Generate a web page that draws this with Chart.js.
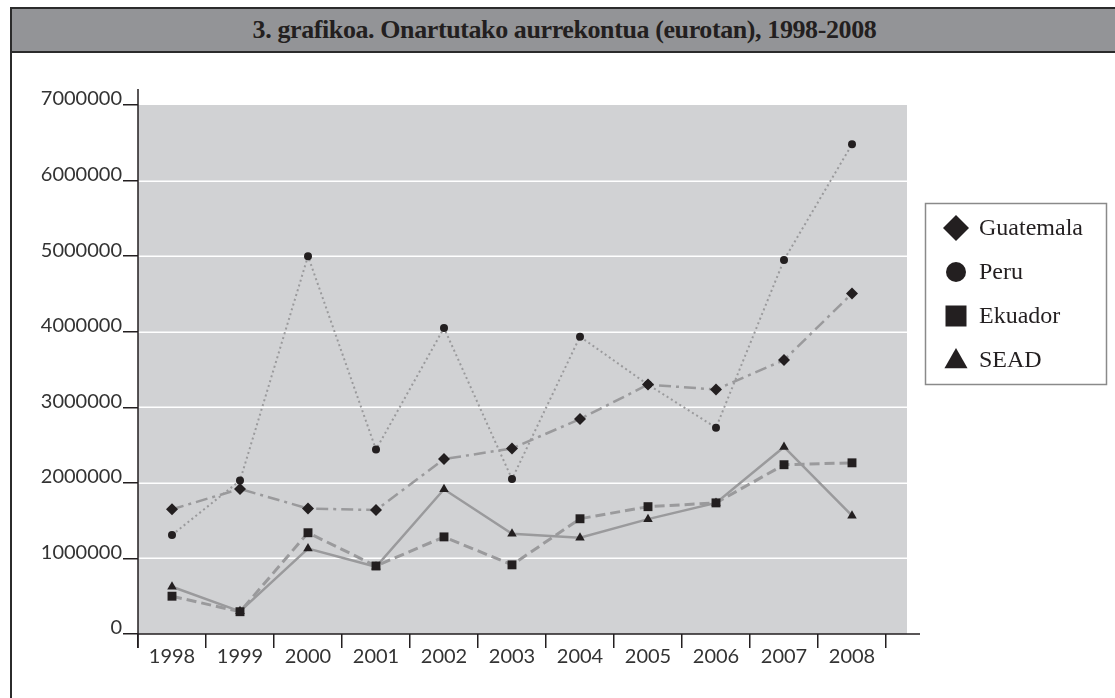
<!DOCTYPE html>
<html>
<head>
<meta charset="utf-8">
<script src="https://cdn.jsdelivr.net/npm/chart.js@4/dist/chart.umd.min.js"></script>
<style>
    html, body { margin: 0; padding: 0; background: #fff; }
    #wrap { position: relative; width: 1115px; height: 698px; overflow: hidden; }
    #frame {
        position: absolute; left: 10px; top: 7px; right: -4px; bottom: -4px;
        border-left: 2px solid #2b2b2b;
    }
    #title {
        position: absolute; left: 10px; top: 7px; width: 1105px; height: 42px;
        background: #939497;
        border-top: 2px solid #2b2b2b; border-bottom: 2px solid #2b2b2b; border-left: 2px solid #2b2b2b;
        box-sizing: content-box;
        font-family: "Liberation Serif", serif; font-weight: bold; font-size: 26px;
        color: #231f20; text-align: center; line-height: 42px; letter-spacing: -0.4px;
    }
    #chart { position: absolute; left: 0; top: 0; }
</style>
</head>
<body>
<div id="wrap">
    <div id="frame"></div>
    <div id="title">3. grafikoa. Onartutako aurrekontua (eurotan), 1998-2008</div>
    <canvas id="chart" width="1115" height="698"></canvas>
</div>
<script>
(function () {

    // ─────────────────────────────────────────────
    // DATA
    // ─────────────────────────────────────────────
    var years     = ['1998', '1999', '2000', '2001', '2002', '2003', '2004', '2005', '2006', '2007', '2008'];
    var guatemala = [1650000, 1920000, 1660000, 1640000, 2315000, 2455000, 2845000, 3300000, 3235000, 3625000, 4505000];
    var peru      = [1310000, 2030000, 5000000, 2440000, 4050000, 2050000, 3935000, 3300000, 2730000, 4950000, 6480000];
    var ekuador   = [500000, 295000, 1340000, 900000, 1285000, 915000, 1525000, 1685000, 1735000, 2240000, 2265000];
    var sead      = [625000, 300000, 1130000, 890000, 1915000, 1325000, 1275000, 1520000, 1735000, 2475000, 1565000];
    var yMax      = 7000000;
    var yStep     = 1000000;

    var INK  = '#231f20';
    var LINE = '#9a9a9c';
    var TICK_FONT = { family: 'Lato', size: 20 };

    // ─────────────────────────────────────────────
    // PLUGINS: grey plot panel, axis extensions, legend box
    // ─────────────────────────────────────────────
    var panel = {
        id: 'panel',
        beforeDatasetsDraw: function (chart) {
            var ctx = chart.ctx, a = chart.chartArea, y = chart.scales.y;
            var right = a.right + 21;
            ctx.save();
            ctx.fillStyle = '#d1d2d4';
            ctx.fillRect(a.left, a.top, right - a.left, a.bottom - a.top);
            ctx.strokeStyle = '#ffffff';
            ctx.lineWidth = 1.5;
            for (var v = yStep; v < yMax; v += yStep) {
                var py = Math.round(y.getPixelForValue(v)) + 0.25;
                ctx.beginPath();
                ctx.moveTo(a.left, py);
                ctx.lineTo(right, py);
                ctx.stroke();
            }
            // axis lines (drawn over the panel)
            ctx.strokeStyle = INK;
            ctx.lineWidth = 1.5;
            ctx.beginPath();
            ctx.moveTo(a.left, a.top - 16);
            ctx.lineTo(a.left, a.bottom + 14);
            ctx.moveTo(a.left, a.bottom);
            ctx.lineTo(a.right + 34, a.bottom);
            ctx.stroke();
            ctx.restore();
        }
    };

    function drawMarker(ctx, style, x, y, r) {
        ctx.beginPath();
        if (style === 'rectRot') {
            ctx.moveTo(x, y - r); ctx.lineTo(x + r, y); ctx.lineTo(x, y + r); ctx.lineTo(x - r, y);
        } else if (style === 'circle') {
            ctx.arc(x, y, r, 0, Math.PI * 2);
        } else if (style === 'rect') {
            ctx.rect(x - r, y - r, 2 * r, 2 * r);
        } else {
            ctx.moveTo(x, y - r * 1.1); ctx.lineTo(x + r * 1.05, y + r * 0.75); ctx.lineTo(x - r * 1.05, y + r * 0.75);
        }
        ctx.closePath();
        ctx.fill();
    }

    var legendBox = {
        id: 'legendBox',
        afterDraw: function (chart) {
            var ctx = chart.ctx;
            var sizes = [13, 10, 10.5, 11];
            ctx.save();
            ctx.fillStyle = '#ffffff';
            ctx.fillRect(925, 203, 181, 181);
            ctx.strokeStyle = '#8a8a8a';
            ctx.lineWidth = 1.5;
            ctx.strokeRect(925.5, 203.5, 181, 181);
            ctx.font = '24px "Liberation Serif"';
            ctx.textBaseline = 'middle';
            ctx.textAlign = 'left';
            chart.data.datasets.forEach(function (ds, i) {
                var cy = 228 + i * 44;
                ctx.fillStyle = INK;
                drawMarker(ctx, ds.pointStyle, 956, cy, sizes[i]);
                ctx.fillText(ds.label, 979, cy + 1);
            });
            ctx.restore();
        }
    };

    function series(label, data, style, radius, dash, width) {
        return {
            label: label,
            data: data,
            borderColor: LINE,
            borderWidth: width,
            borderDash: dash,
            backgroundColor: INK,
            pointStyle: style,
            pointRadius: radius,
            pointHoverRadius: radius,
            pointBackgroundColor: INK,
            pointBorderWidth: 0,
            tension: 0,
            fill: false,
            clip: false
        };
    }

    // ─────────────────────────────────────────────
    // RENDER
    // ─────────────────────────────────────────────
    new Chart(document.getElementById('chart').getContext('2d'), {
        type: 'line',
        data: {
            labels: years,
            datasets: [
                series('Guatemala', guatemala, 'rectRot', 6, [12, 5, 3, 5], 2.5),
                series('Peru', peru, 'circle', 4, [2, 3], 2),
                series('Ekuador', ekuador, 'rect', 6.3, [10, 5], 3),
                series('SEAD', sead, 'triangle', 5.5, [], 2.5)
            ]
        },
        options: {
            responsive: false,
            animation: false,
            layout: { padding: { left: 0, top: 105, right: 229, bottom: 0 } },
            plugins: {
                legend: { display: false },
                tooltip: { enabled: false },
                title: { display: false }
            },
            scales: {
                x: {
                    offset: true,
                    afterFit: function (s) { s.height = 64; },
                    grid: {
                        offset: true,
                        drawOnChartArea: false,
                        drawTicks: true,
                        tickLength: 14,
                        color: INK,
                        lineWidth: 1.5
                    },
                    border: { display: false },
                    ticks: {
                        color: '#333333',
                        font: TICK_FONT,
                        padding: -3,
                        maxRotation: 0,
                        autoSkip: false
                    }
                },
                y: {
                    min: 0,
                    max: yMax,
                    afterFit: function (s) { s.width = 138; },
                    grid: {
                        drawOnChartArea: false,
                        drawTicks: true,
                        tickLength: 15,
                        color: INK,
                        lineWidth: 1.5
                    },
                    border: { display: false },
                    ticks: {
                        stepSize: yStep,
                        color: '#333333',
                        font: TICK_FONT,
                        padding: 1,
                        labelOffset: -6,
                        callback: function (v) { return String(v); }
                    }
                }
            }
        },
        plugins: [panel, legendBox]
    });

})();
</script>
</body>
</html>
